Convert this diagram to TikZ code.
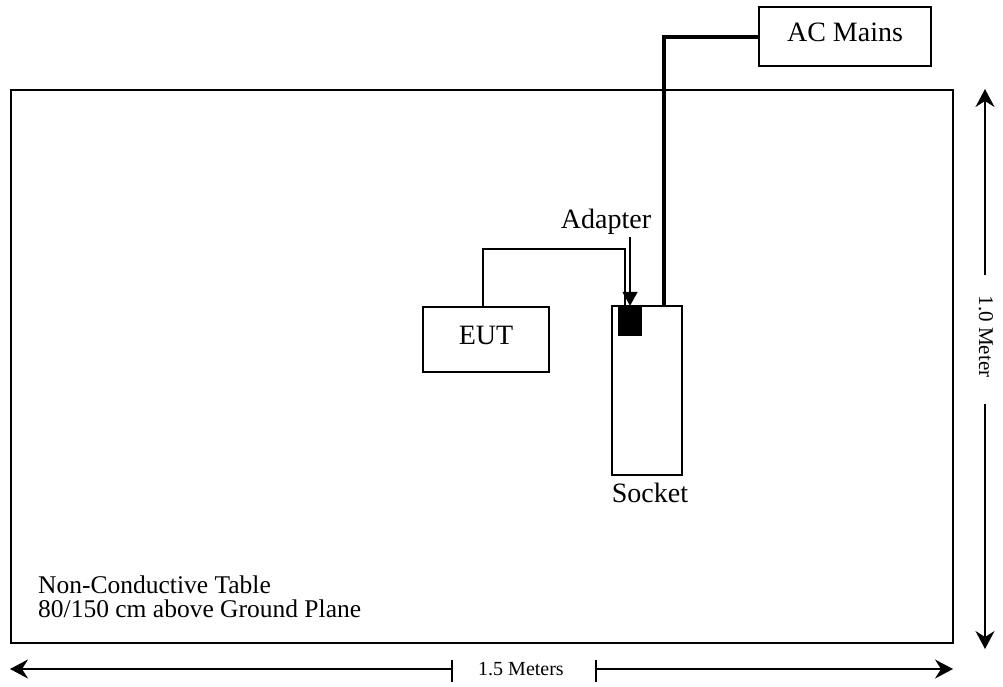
\documentclass[tikz,border=0pt]{standalone}
\usepackage{fontspec}
\setmainfont{Liberation Serif}
\usetikzlibrary{arrows.meta}
\begin{document}
\begin{tikzpicture}[x=1pt,y=-1pt,
  box/.style={draw,line width=1.6pt,rectangle,inner sep=0pt,font=\fontsize{28}{32}\selectfont,text height=20pt,text depth=10pt},
  lbl/.style={inner sep=0pt,font=\fontsize{28}{32}\selectfont},
  cable/.style={line width=4pt},
  wire/.style={line width=1.8pt},
  dim/.style={line width=1.5pt,-{Stealth[length=18pt,width=19pt,inset=6pt]}},
  tick/.style={line width=1.5pt},
  dimlbl/.style={inner sep=0pt}]
\useasboundingbox (0,0) rectangle (1003,686);
\node[draw,line width=1.6pt,minimum width=942pt,minimum height=553pt,inner sep=0pt] (table) at (482,366.5) {};
\node[box,minimum width=172pt,minimum height=59pt] (ac) at (845,36.5) {AC Mains};
\node[box,minimum width=126pt,minimum height=65pt] (eut) at (486,339.5) {EUT};
\node[box,minimum width=70pt,minimum height=169pt] (socket) at (647,390.5) {};
\node[fill=black,minimum width=24pt,minimum height=30pt,inner sep=0pt] (adapter) at (630,321) {};
\node[lbl,anchor=base] (adlbl) at (606,228) {Adapter};
\node[lbl,anchor=base] (socklbl) at (650,502) {Socket};
\node[anchor=base west,inner sep=0pt,align=left,font=\fontsize{25.5}{24}\selectfont] (tbllbl) at (38,617) {Non-Conductive Table\\80/150 cm above Ground Plane};
% power cable
\draw[cable] (ac.west) -| ([xshift=53pt]socket.north west);
% EUT wire
\draw[wire] ([xshift=61pt]eut.north west) |- ([xshift=7pt,yshift=57pt]adapter.north west) -- ([xshift=7pt]adapter.north west);
% adapter pointer
\coordinate (adtop) at ([yshift=-9pt]adlbl.base);
\draw[wire,-{Triangle[length=14pt,width=15pt]}] (adtop -| adapter.north) -- (adapter.north);
% vertical dimension
\node[dimlbl,rotate=-90,font=\fontsize{21}{24}\selectfont] (vlbl) at (986,336.5) {1.0 Meter};
\coordinate (vtop) at (985,89);
\coordinate (vbot) at (985,649);
\draw[dim,shorten <=20pt] (vlbl.west -| vtop) -- (vtop);
\draw[dim,shorten <=26pt] (vlbl.east -| vbot) -- (vbot);
% horizontal dimension
\node[dimlbl,anchor=base,font=\fontsize{20}{24}\selectfont] (hlbl) at (521,675) {1.5 Meters};
\coordinate (tl) at (452,669);
\coordinate (tr) at (596,669);
\coordinate (hl) at (10,669);
\coordinate (hr) at (953,669);
\draw[dim] (tl) -- (hl);
\draw[dim] (tr) -- (hr);
\draw[tick] ([yshift=9pt]tl) -- ([yshift=-13pt]tl);
\draw[tick] ([yshift=9pt]tr) -- ([yshift=-13pt]tr);
\end{tikzpicture}
\end{document}
